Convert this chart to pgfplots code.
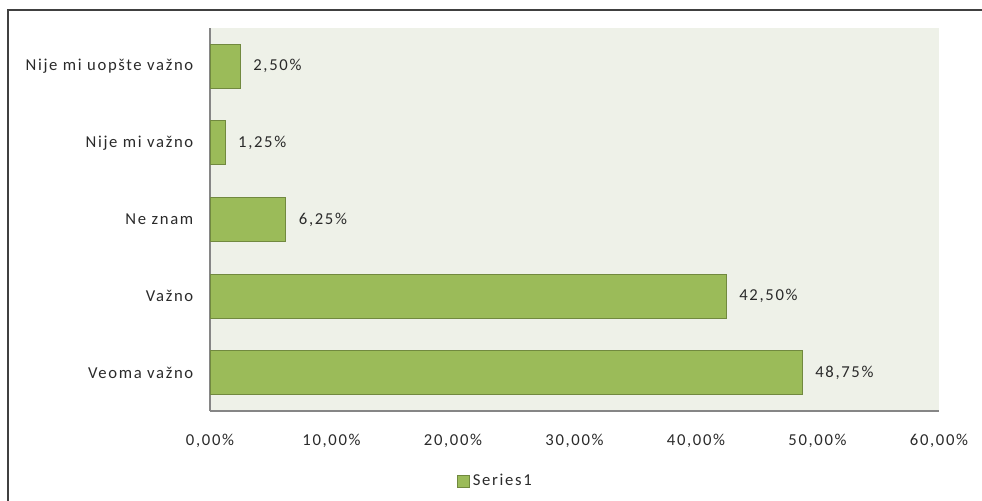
\documentclass[border=0pt]{standalone}
\usepackage{pgfplots}
\pgfplotsset{compat=1.18}
\usepackage{fontspec}
\setmainfont{Carlito}[LetterSpace=10]
\definecolor{barfill}{HTML}{9BBB59}
\definecolor{baredge}{HTML}{71893F}
\definecolor{plotbg}{HTML}{EEF1E8}
\definecolor{axgray}{HTML}{868686}
\definecolor{txt}{HTML}{2A2A2A}
\begin{document}
\begin{tikzpicture}
\path[use as bounding box] (0,0) rectangle (736.5pt,375pt);
\draw[line width=1.5pt, color=black!75] (6pt,-20pt) -- (6pt,367.5pt) -- (760pt,367.5pt);
\begin{axis}[
  at={(157.5pt,66.75pt)}, anchor=south west,
  scale only axis, width=546.75pt, height=287.25pt,
  xbar, bar width=0.575,
  xmin=0, xmax=60, ymin=-0.5, ymax=4.5,
  axis x line*=bottom, axis y line*=left,
  axis line style={axgray, line width=0.8pt, -},
  axis background/.style={fill=plotbg},
  xtick={0,10,20,30,40,50,60},
  xticklabels={{0,00\%},{10,00\%},{20,00\%},{30,00\%},{40,00\%},{50,00\%},{60,00\%}},
  ytick={0,1,2,3,4},
  yticklabels={Veoma važno,Važno,Ne znam,Nije mi važno,Nije mi uopšte važno},
  major tick length=0pt,
  tick label style={font=\fontsize{12.5}{14}\selectfont, color=txt},
  xticklabel style={yshift=-14pt},
  yticklabel style={xshift=-9pt},
  /pgf/number format/assume math mode=true,
  nodes near coords={\pgfmathprintnumber[fixed, fixed zerofill, precision=2, use comma, assume math mode=true]{\pgfplotspointmeta}\%},
  nodes near coords style={font=\fontsize{12.5}{14}\selectfont, color=txt, xshift=6pt},
  legend style={at={(0.392,-0.183)}, anchor=center, draw=none, fill=none,
    font=\fontsize{12.5}{14}\selectfont, text=txt, inner sep=0pt,
    /tikz/every odd column/.append style={column sep=0pt}},
  legend image code/.code={\draw[#1] (0pt,-4.5pt) rectangle (9pt,4.5pt);},
]
\addplot[fill=barfill, draw=baredge, line width=0.8pt] coordinates {
  (48.75,0) (42.5,1) (6.25,2) (1.25,3) (2.5,4)
};
\addlegendentry{Series1}
\end{axis}
\end{tikzpicture}
\end{document}
